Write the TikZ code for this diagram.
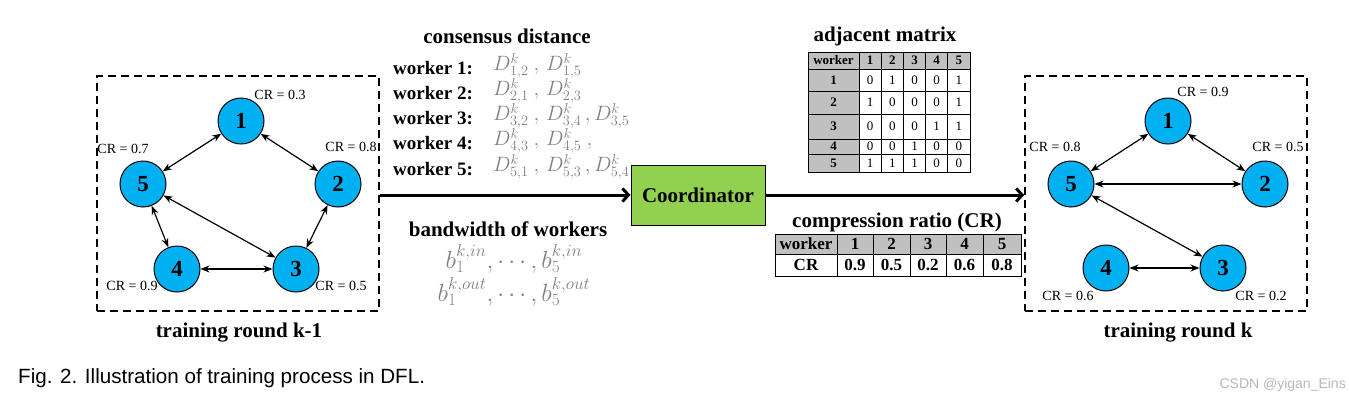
\documentclass[tikz,border=0pt]{standalone}
\usepackage{fontspec}
\setmainfont{Liberation Serif}
\newfontfamily\capfont{Liberation Sans}
\usetikzlibrary{arrows.meta}
\definecolor{nodeblue}{HTML}{00B0F0}
\definecolor{coordgreen}{HTML}{92D050}
\definecolor{hdrgray}{HTML}{C0C0C0}
\definecolor{mathgray}{HTML}{808080}
\definecolor{wmgray}{HTML}{B8B8B8}
\begin{document}
\begin{tikzpicture}[x=1pt,y=-1pt,
  worker/.style={circle,draw,line width=1pt,fill=nodeblue,minimum size=46pt,inner sep=0pt,
    font=\fontsize{23}{23}\selectfont\bfseries},
  link/.style={{Stealth[length=9pt,width=7pt]}-{Stealth[length=9pt,width=7pt]},line width=1.2pt},
  crlab/.style={font=\fontsize{14}{14}\selectfont,inner sep=0pt},
  region/.style={draw,dash pattern=on 8pt off 5pt,line width=1.5pt,inner sep=0pt},
  title/.style={font=\fontsize{21}{21}\selectfont\bfseries,inner sep=0pt},
  wlabel/.style={font=\fontsize{19}{19}\selectfont\bfseries,inner sep=0pt,anchor=west},
  dterm/.style={font=\fontsize{20}{20}\selectfont,text=mathgray,inner sep=0pt,anchor=west},
  bterm/.style={font=\fontsize{24}{24}\selectfont,text=mathgray,inner sep=0pt},
  flow/.style={-{Straight Barb[length=6pt,width=13pt]},line width=3pt},
  cell/.style={inner sep=0pt,font=\fontsize{13}{13}\selectfont},
  bcell/.style={inner sep=0pt,font=\fontsize{13}{13}\selectfont\bfseries},
  crcell/.style={inner sep=0pt,font=\fontsize{17}{17}\selectfont\bfseries},
]
\useasboundingbox (0,0) rectangle (1349,408);

% ---------- left graph: training round k-1 ----------
\node[region,minimum width=282pt,minimum height=235pt] (roundA) at (238,193.5) {};
\node[worker] (a1) at (241,121) {1};
\node[worker] (a2) at (338,184) {2};
\node[worker] (a3) at (296,269) {3};
\node[worker] (a4) at (177,269) {4};
\node[worker] (a5) at (143,184) {5};
\draw[link] (a1) -- (a5);
\draw[link] (a1) -- (a2);
\draw[link] (a2) -- (a3);
\draw[link] (a5) -- (a3);
\draw[link] (a5) -- (a4);
\draw[link] (a4) -- (a3);
\node[crlab] (ca1) at (280,95) {CR = 0.3};
\node[crlab] (ca5) at (123,149) {CR = 0.7};
\node[crlab] (ca2) at (351,147) {CR = 0.8};
\node[crlab] (ca4) at (132,286) {CR = 0.9};
\node[crlab] (ca3) at (341,286) {CR = 0.5};
\node[title] (tA) at (239,333) {training round k-1};

% ---------- right graph: training round k ----------
\node[region,minimum width=282pt,minimum height=235pt] (roundB) at (1166,193.5) {};
\node[worker] (b1) at (1168,121) {1};
\node[worker] (b2) at (1265,184) {2};
\node[worker] (b3) at (1223,268) {3};
\node[worker] (b4) at (1106,268) {4};
\node[worker] (b5) at (1071,184) {5};
\draw[link] (b1) -- (b5);
\draw[link] (b1) -- (b2);
\draw[link] (b5) -- (b2);
\draw[link] (b5) -- (b3);
\draw[link] (b4) -- (b3);
\node[crlab] (cb1) at (1203,92) {CR = 0.9};
\node[crlab] (cb5) at (1055,147) {CR = 0.8};
\node[crlab] (cb2) at (1278,147) {CR = 0.5};
\node[crlab] (cb4) at (1068,296) {CR = 0.6};
\node[crlab] (cb3) at (1261,296) {CR = 0.2};
\node[title] (tB) at (1178,333) {training round k};

% ---------- coordinator and flow ----------
\node[draw,line width=1pt,fill=coordgreen,minimum width=134pt,minimum height=60pt,inner sep=0pt,
  font=\fontsize{21}{21}\selectfont\bfseries] (coord) at (698,195) {Coordinator};
\draw[flow] (roundA.east |- coord.west) -- (coord.west);
\draw[flow] (coord.east) -- (roundB.west |- coord.east);

% ---------- consensus distance ----------
\node[title] (tcd) at (507,36) {consensus distance};
\node[wlabel] (w1) at (393,68) {worker 1:};
\node[wlabel] (w2) at (393,93) {worker 2:};
\node[wlabel] (w3) at (393,118) {worker 3:};
\node[wlabel] (w4) at (393,143) {worker 4:};
\node[wlabel] (w5) at (393,169) {worker 5:};
\node[dterm] (d1) at (493,66) {$D^k_{1,2}\ ,\,D^k_{1,5}$};
\node[dterm] (d2) at (493,91) {$D^k_{2,1}\ ,\,D^k_{2,3}$};
\node[dterm] (d3) at (493,116) {$D^k_{3,2}\ ,\,D^k_{3,4}\,,D^k_{3,5}$};
\node[dterm] (d4) at (493,141) {$D^k_{4,3}\ ,\,D^k_{4,5}\ ,$};
\node[dterm] (d5) at (493,167) {$D^k_{5,1}\ ,\,D^k_{5,3}\,,D^k_{5,4}$};

% ---------- bandwidth ----------
\node[title] (tbw) at (508,229) {bandwidth of workers};
\node[bterm] (bin) at (514,259) {$b_1^{k,in},\cdots,b_5^{k,in}$};
\node[bterm] (bout) at (514,292) {$b_1^{k,out},\cdots,b_5^{k,out}$};

% ---------- adjacent matrix ----------
\node[title] (tam) at (885,36) {adjacent matrix};
\fill[hdrgray] (808,52) rectangle (970,69);
\fill[hdrgray] (808,69) rectangle (859,172);
\draw[line width=1pt] (808,52) rectangle (970,172);
\foreach \yy in {69,91,114,139,154} \draw[line width=0.8pt] (808,\yy) -- (970,\yy);
\foreach \c in {0,...,4} \draw[line width=0.8pt] (859+22.2*\c,52) -- (859+22.2*\c,172);
\node[bcell] (amh) at (833.5,60.5) {worker};
\foreach \c in {1,...,5} \node[bcell] (amc\c) at (847.9+22.2*\c,60.5) {\c};
\foreach \r/\ya/\yb/\vals in {1/69/91/{0,1,0,0,1},2/91/114/{1,0,0,0,1},3/114/139/{0,0,0,1,1},4/139/154/{0,0,1,0,0},5/154/172/{1,1,1,0,0}}{
  \node[bcell] (amr\r) at (833.5,{(\ya+\yb)/2}) {\r};
  \foreach \v [count=\c] in \vals
    \node[cell] (am\r\c) at (847.9+22.2*\c,{(\ya+\yb)/2}) {\v};
}

% ---------- compression ratio table ----------
\node[title] (tcr) at (897,222) {compression ratio (CR)};
\fill[hdrgray] (775,234) rectangle (1021,254);
\draw[line width=1pt] (775,234) rectangle (1021,276);
\draw[line width=0.8pt] (775,254) -- (1021,254);
\foreach \xx in {837,873,910,946,983} \draw[line width=0.8pt] (\xx,234) -- (\xx,276);
\node[crcell] (crh) at (806,244) {worker};
\node[crcell] (crr) at (806,265) {CR};
\foreach \c/\xa/\xb/\v in {1/837/873/0.9,2/873/910/0.5,3/910/946/0.2,4/946/983/0.6,5/983/1021/0.8}{
  \node[crcell] (crc\c) at ({(\xa+\xb)/2},244) {\c};
  \node[crcell] (crv\c) at ({(\xa+\xb)/2},265) {\v};
}

% ---------- caption and mark ----------
\node[inner sep=0pt,anchor=west,font=\capfont\fontsize{20.6}{21}\selectfont] (cap) at (18,378) {Fig. 2. Illustration of training process in DFL.};
\node[inner sep=0pt,anchor=east,text=wmgray,font=\capfont\fontsize{14}{14}\selectfont] (wm) at (1346,385) {CSDN @yigan\_Eins};
\end{tikzpicture}
\end{document}
